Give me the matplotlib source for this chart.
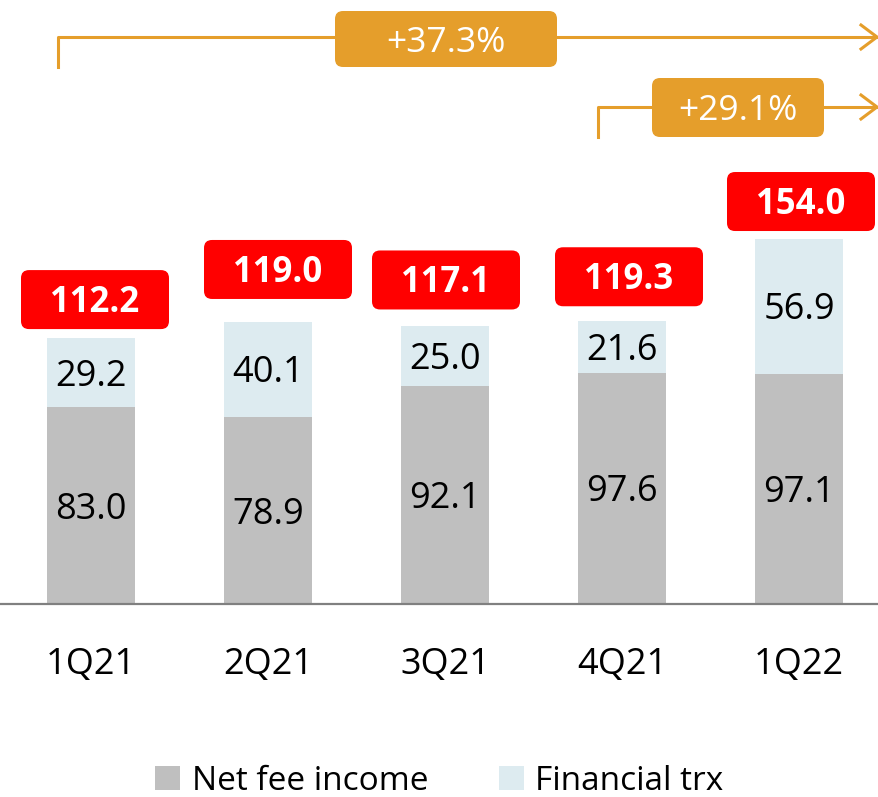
import matplotlib.pyplot as plt
import matplotlib.transforms as mtransforms
from matplotlib.patches import FancyBboxPatch, Patch

plt.rcParams['font.family'] = ['Open Sans', 'DejaVu Sans']

# quarterly fees, EUR mn
quarters = ['1Q21', '2Q21', '3Q21', '4Q21', '1Q22']
net_fee_income = [83.0, 78.9, 92.1, 97.6, 97.1]
financial_trx = [29.2, 40.1, 25.0, 21.6, 56.9]
totals = [112.2, 119.0, 117.1, 119.3, 154.0]
growth_labels = ['+37.3%', '+29.1%']

GREY = '#bfbfbf'
LIGHT_BLUE = '#ddebf0'
RED = '#ff0000'
ORANGE = '#e59e2b'

W, H = 879, 797
fig = plt.figure(figsize=(W / 100, H / 100), dpi=100)

# axes: baseline at 604 px from the top, 2.37 px per unit
base_px = 604
px_per_unit = 2.37
ax = fig.add_axes([0, (H - base_px) / H, 1, base_px / H])
ax.set_xlim(-91 / 177, (W - 91) / 177)
ax.set_ylim(0, base_px / px_per_unit)

x = range(len(quarters))
ax.bar(x, net_fee_income, width=0.5, color=GREY, zorder=2)
ax.bar(x, financial_trx, width=0.5, bottom=net_fee_income, color=LIGHT_BLUE, zorder=2)

# half the digit height, so labels sit centred on their segment
half_cap = 13 / px_per_unit
for i in x:
    ax.text(i, net_fee_income[i] / 2 - half_cap, f'{net_fee_income[i]:.1f}', ha='center',
            va='baseline', fontsize=26, color='black', zorder=3)
    ax.text(i, net_fee_income[i] + financial_trx[i] / 2 - half_cap, f'{financial_trx[i]:.1f}',
            ha='center', va='baseline', fontsize=26, color='black', zorder=3)

# red total boxes above each bar (gap and sideways shift in px)
box_gap = [9, 23, 17, 15, 8]
box_shift = [4, 10, 1, 7, 2]
for i in x:
    anchor = fig.dpi_scale_trans + mtransforms.ScaledTranslation(i, totals[i], ax.transData)
    g = box_gap[i] / 100
    s = box_shift[i] / 100
    box = FancyBboxPatch((s - 0.74 + 0.08, g + 0.08), 1.48 - 0.16, 0.59 - 0.16,
                         boxstyle='round,pad=0.08', transform=anchor,
                         facecolor=RED, edgecolor='none', clip_on=False, zorder=4)
    ax.add_patch(box)
    ax.annotate(f'{totals[i]:.1f}', (i, totals[i]),
                xytext=(box_shift[i] * 0.72, (box_gap[i] + 29.5 - 12.5) * 0.72),
                textcoords='offset points', ha='center', va='baseline',
                fontsize=25, fontweight='bold', color='white', zorder=5)

for sp in ['top', 'left', 'right']:
    ax.spines[sp].set_visible(False)
ax.spines['bottom'].set_color('#808080')
ax.spines['bottom'].set_linewidth(1.6)
ax.set_yticks([])
ax.set_xticks(list(x))
ax.set_xticklabels(quarters, fontsize=26)
ax.tick_params(axis='x', length=0, pad=31)


# growth brackets in pixel coordinates
def fx(px):
    return px / W


def fy(py):
    return 1 - py / H


def bracket(x0, y_low, y_line, box_l, box_r, box_t, box_b, label):
    fig.add_artist(plt.Line2D([fx(x0), fx(x0), fx(W - 2)],
                              [fy(y_low), fy(y_line), fy(y_line)],
                              color=ORANGE, lw=2.2, transform=fig.transFigure))
    fig.add_artist(plt.Line2D([fx(W - 18), fx(W - 2), fx(W - 18)],
                              [fy(y_line - 12), fy(y_line), fy(y_line + 12)],
                              color=ORANGE, lw=2.2, transform=fig.transFigure,
                              solid_joinstyle='miter'))
    r = 8
    fig.add_artist(FancyBboxPatch((fx(box_l + r), fy(box_b - r)),
                                  fx(box_r - box_l - 2 * r), fy(0) - fy(box_b - box_t - 2 * r),
                                  boxstyle=f'round,pad={r / W}', transform=fig.transFigure,
                                  facecolor=ORANGE, edgecolor='none',
                                  mutation_aspect=W / H))
    fig.text(fx((box_l + box_r) / 2), fy((box_t + box_b) / 2 + 12.5), label,
             ha='center', va='baseline', fontsize=25.5, color='white')


bracket(58, 67, 37, 335, 557, 11, 67, growth_labels[0])
bracket(598, 137, 107, 652, 824, 78, 137, growth_labels[1])

handles = [Patch(facecolor=GREY, label='Net fee income'),
           Patch(facecolor=LIGHT_BLUE, label='Financial trx')]
fig.legend(handles=handles, loc='center', bbox_to_anchor=(0.5, fy(781)), ncol=2,
           frameon=False, fontsize=24, handlelength=0.75, handleheight=0.75,
           handletextpad=0.35, columnspacing=2.1, borderpad=0)

fig.savefig('out.png', dpi=100)
